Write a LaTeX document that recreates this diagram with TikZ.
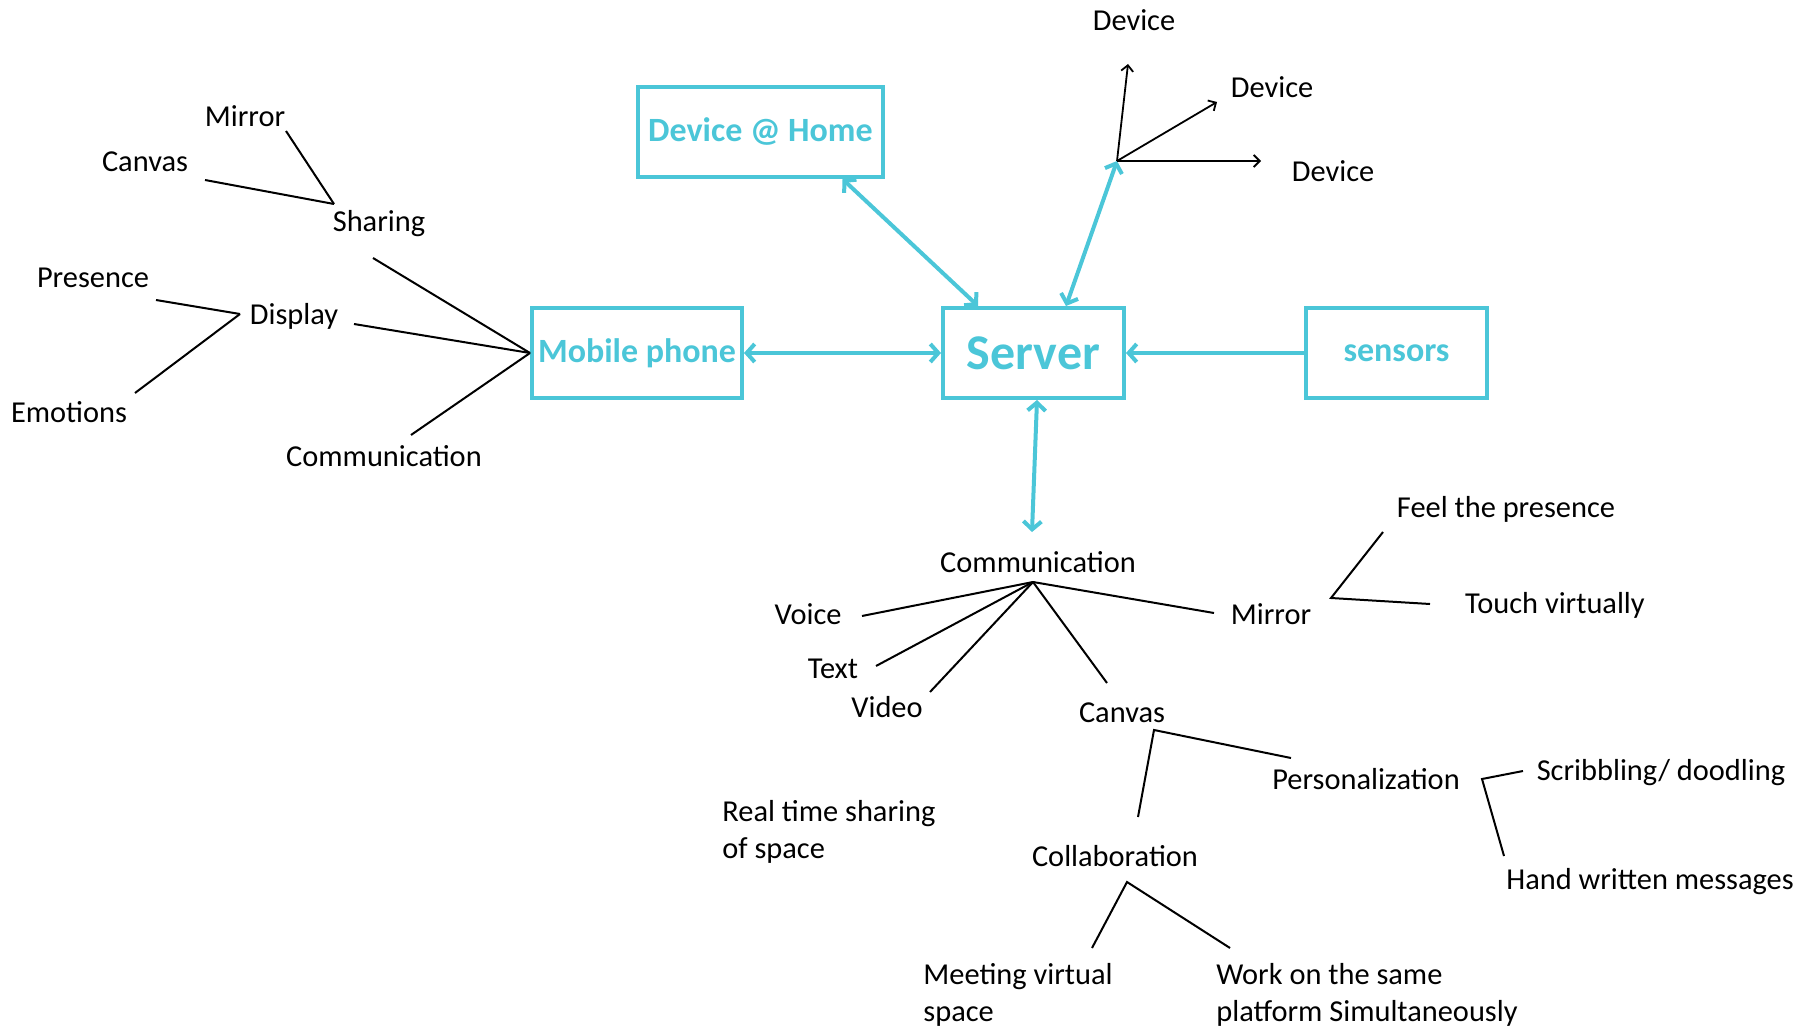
\documentclass[tikz,border=0pt]{standalone}
\usepackage{fontspec}
\setmainfont{Carlito}
\usetikzlibrary{arrows.meta}
\usetikzlibrary{positioning}

\definecolor{sky}{RGB}{75,198,216}

\begin{document}
\begin{tikzpicture}[x=0.5pt, y=-0.5pt, >={Straight Barb[length=3pt, width=6pt]},
    box/.style={draw=sky, line width=2pt, text=sky, inner sep=0pt,
                minimum height=45pt, font=\bfseries\fontsize{17}{20}\selectfont},
    link/.style={draw=sky, line width=2pt, >={Straight Barb[length=4pt, width=9pt]}},
    leaf/.style={inner sep=0pt, align=left, font=\fontsize{15.2}{18.5}\selectfont},
    branch/.style={line width=1pt}]
      \useasboundingbox (0,0) rectangle (1814,1027);

      % the blue boxes
      \node[box, minimum width=122.5pt] (home) at (760.5,132) {Device @ Home};
      \node[box, minimum width=105pt] (phone) at (637,353) {Mobile phone};
      \node[box, minimum width=90.5pt,
            font=\bfseries\fontsize{25}{28}\selectfont] (server) at (1033.5,353) {Server};
      \node[box, minimum width=90.5pt] (sensors) at (1396.5,353) {sensors};

      \draw[link, <->] ([xshift=41pt]home.south) -- ([xshift=-27.75pt]server.north);
      \draw[link, <->] (phone.east) -- (server.west);
      \draw[link, ->] (sensors.west) -- (server.east);

      % devices
      \coordinate (dev-hub) at (1117,161);
      \node[leaf] (dev-top) at (1134,20) {Device};
      \node[leaf] (dev-mid) at (1272,87) {Device};
      \node[leaf] (dev-right) at (1333,171) {Device};
      \coordinate (dev-top-tip) at (1128,64);
      \coordinate (dev-mid-tip) at (1217,102);
      \coordinate (dev-right-tip) at (1261,161);
      \draw[link, <->] ([xshift=16.25pt]server.north) -- (dev-hub);
      \draw[->, line width=0.9pt] (dev-hub) -- (dev-top-tip);
      \draw[->, line width=0.9pt] (dev-hub) -- (dev-mid-tip);
      \draw[->, line width=0.9pt] (dev-hub) -- (dev-right-tip);

      % phone side
      \node[leaf] (mirror-l) at (245,116) {Mirror};
      \node[leaf] (canvas-l) at (145,162) {Canvas};
      \node[leaf] (sharing) at (379,224) {Sharing};
      \node[leaf] (presence) at (93,278) {Presence};
      \node[leaf] (display) at (294,316) {Display};
      \node[leaf] (emotions) at (69,412) {Emotions};
      \node[leaf] (comm-l) at (384,456) {Communication};

      \coordinate (sharing-hub) at (334,204);
      \coordinate (display-hub) at (240,314);
      \draw[branch] (286,131) coordinate (mirror-l-end) -- (sharing-hub);
      \draw[branch] (205,180) coordinate (canvas-l-end) -- (sharing-hub);
      \draw[branch] (156,300) coordinate (presence-end) -- (display-hub);
      \draw[branch] (135,393) coordinate (emotions-end) -- (display-hub);
      \draw[branch] (373,258) coordinate (sharing-end) -- (phone.west);
      \draw[branch] (354,324) coordinate (display-end) -- (phone.west);
      \draw[branch] (411,435) coordinate (comm-l-end) -- (phone.west);

      % server side
      \node[leaf] (comm) at (1038,562) {Communication};
      \coordinate (comm-top) at (1032,532);
      \draw[link, <->] ([xshift=1.75pt]server.south) -- (comm-top);

      \node[leaf] (voice) at (808,614) {Voice};
      \node[leaf] (text) at (833,669) {Text};
      \node[leaf] (video) at (887,707) {Video};
      \node[leaf] (canvas) at (1122,713) {Canvas};
      \node[leaf] (mirror) at (1271,614) {Mirror};
      \node[leaf] (feel) at (1506,509) {Feel the presence};
      \node[leaf] (touch) at (1555,605) {Touch virtually};
      \node[leaf] (personal) at (1366,779) {Personalization};
      \node[leaf] (scribble) at (1661,773) {Scribbling/ doodling};
      \node[leaf] (hand) at (1650,882) {Hand written messages};
      \node[leaf] (collab) at (1115,856) {Collaboration};
      \node[leaf, anchor=west] (realtime) at (722,831.5) {Real time sharing\\of space};
      \node[leaf, anchor=west] (meeting) at (923,994.5) {Meeting virtual\\space};
      \node[leaf, anchor=west] (work) at (1216,994.5) {Work on the same\\platform Simultaneously};

      \coordinate (comm-hub) at (1033,582);
      \draw[branch] (862,616) coordinate (voice-end) -- (comm-hub);
      \draw[branch] (876,666) coordinate (text-end) -- (comm-hub);
      \draw[branch] (930,692) coordinate (video-end) -- (comm-hub);
      \draw[branch] (1107,683) coordinate (canvas-end) -- (comm-hub);
      \draw[branch] (1214,613) coordinate (mirror-end) -- (comm-hub);

      \coordinate (mirror-hub) at (1331,598);
      \draw[branch] (1383,532) coordinate (feel-end) -- (mirror-hub)
                    -- (1430,604) coordinate (touch-end);

      \coordinate (canvas-hub) at (1154,730);
      \draw[branch] (1291,758) coordinate (personal-end) -- (canvas-hub)
                    -- (1138,817) coordinate (collab-end);

      \coordinate (personal-hub) at (1482,779);
      \draw[branch] (1523,771) coordinate (scribble-end) -- (personal-hub)
                    -- (1504,856) coordinate (hand-end);

      \coordinate (collab-hub) at (1127,882);
      \draw[branch] (1092,948) coordinate (meeting-end) -- (collab-hub)
                    -- (1230,948) coordinate (work-end);
    \end{tikzpicture}
\end{document}
